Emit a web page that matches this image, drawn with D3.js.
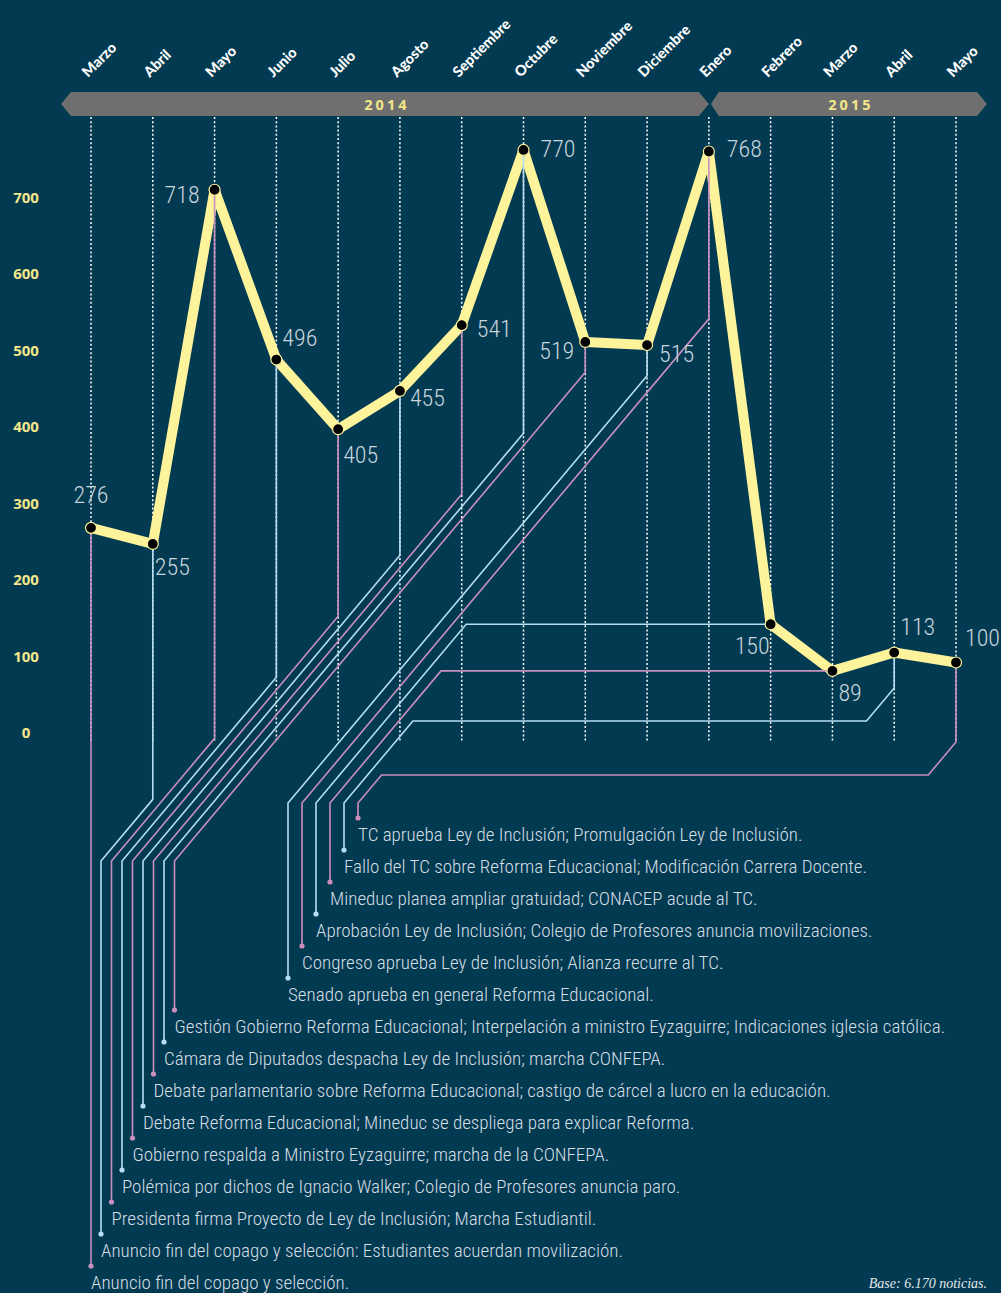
<!DOCTYPE html>
<html><head><meta charset="utf-8">
<script src="https://cdn.jsdelivr.net/npm/d3@7/dist/d3.min.js"></script>
<style>body{margin:0;background:#023a52}svg{display:block}</style></head>
<body><svg id="chart" width="1001" height="1293"></svg>
<script>
// ---------- data ----------
const months = ["Marzo","Abril","Mayo","Junio","Julio","Agosto","Septiembre","Octubre","Noviembre","Diciembre","Enero","Febrero","Marzo","Abril","Mayo"];
const years = ["2014","2015"];
const values = [276,255,718,496,405,455,541,770,519,515,768,150,89,113,100];
const yTicks = [0,100,200,300,400,500,600,700];
const events = [
  "Anuncio fin del copago y selección.",
  "Anuncio fin del copago y selección: Estudiantes acuerdan movilización.",
  "Presidenta firma Proyecto de Ley de Inclusión; Marcha Estudiantil.",
  "Polémica por dichos de Ignacio Walker; Colegio de Profesores anuncia paro.",
  "Gobierno respalda a Ministro Eyzaguirre; marcha de la CONFEPA.",
  "Debate Reforma Educacional; Mineduc se despliega para explicar Reforma.",
  "Debate parlamentario sobre Reforma Educacional; castigo de cárcel a lucro en la educación.",
  "Cámara de Diputados despacha Ley de Inclusión; marcha CONFEPA.",
  "Gestión Gobierno Reforma Educacional; Interpelación a ministro Eyzaguirre; Indicaciones iglesia católica.",
  "Senado aprueba en general Reforma Educacional.",
  "Congreso aprueba Ley de Inclusión; Alianza recurre al TC.",
  "Aprobación Ley de Inclusión; Colegio de Profesores anuncia movilizaciones.",
  "Mineduc planea ampliar gratuidad; CONACEP acude al TC.",
  "Fallo del TC sobre Reforma Educacional; Modificación Carrera Docente.",
  "TC aprueba Ley de Inclusión; Promulgación Ley de Inclusión."
];
const footnote = "Base: 6.170 noticias.";

// ---------- style / layout ----------
const C = {bg:"#023a52", yellow:"#fdf39b", pink:"#c98fbf", blue:"#b6def2", text:"#d5dee3", num:"#c8d5dc", tick:"#f4e68a", band:"#6f6f6f"};
const labelPlace = [[0,-25,"middle"],[2,31,"start"],[-15,13,"end"],[6,-14,"start"],[5,34,"start"],[10,15,"start"],[15,12,"start"],[17,7,"start"],[-11,17,"end"],[12,17,"start"],[18,6,"start"],[-1,30,"end"],[6,30,"start"],[6,-18,"start"],[9,-17,"start"]];

const svg = d3.select("#chart");
svg.append("rect").attr("width",1001).attr("height",1293).attr("fill",C.bg);

const x = d3.scalePoint().domain(d3.range(months.length)).range([91,956]);
const y = d3.scaleLinear().domain([0,700]).range([739,739-0.765*700]);

// month labels
svg.append("g").selectAll("text").data(months).join("text")
  .attr("transform",(d,i)=>`translate(${x(i)-3},78) rotate(-45)`)
  .attr("fill","#fff").style("font-family","Lato").style("font-weight",900).style("font-size","14.5px")
  .text(d=>d);

// year bands
const bandY=104, bh=12;
const bandPts = [
  [[x(0)-30,bandY],[x(0)-20,bandY-bh],[x(10)-10,bandY-bh],[x(10),bandY],[x(10)-10,bandY+bh],[x(0)-20,bandY+bh]],
  [[x(10)+2,bandY],[x(10)+10,bandY-bh],[x(14)+21,bandY-bh],[x(14)+31,bandY],[x(14)+21,bandY+bh],[x(10)+10,bandY+bh]]
];
svg.append("g").selectAll("path").data(bandPts).join("path")
  .attr("d",d=>"M"+d.join("L")+"Z").attr("fill",C.band);
svg.append("g").selectAll("text").data(years).join("text")
  .attr("x",(d,i)=>(bandPts[i][0][0]+bandPts[i][3][0])/2+2).attr("y",bandY+5.5)
  .attr("text-anchor","middle").attr("fill",C.tick)
  .style("font-family","'Open Sans'").style("font-weight",700).style("font-size","14.5px").style("letter-spacing","3px")
  .text(d=>d);

// grid
svg.append("g").selectAll("line").data(months).join("line")
  .attr("x1",(d,i)=>x(i)).attr("x2",(d,i)=>x(i)).attr("y1",117).attr("y2",741)
  .attr("stroke","#fff").attr("stroke-width",1.5).attr("stroke-dasharray","2,2.2");

// y ticks
svg.append("g").selectAll("text").data(yTicks).join("text")
  .attr("x",26).attr("y",d=>y(d)-1).attr("text-anchor","middle").attr("fill",C.tick)
  .style("font-family","'Open Sans'").style("font-weight",700).style("font-size","15px")
  .text(d=>d);

// main line
svg.append("path").datum(values)
  .attr("d",d3.line().x((d,i)=>x(i)).y(d=>y(d)))
  .attr("fill","none").attr("stroke",C.yellow).attr("stroke-width",10).attr("stroke-linejoin","round");

// leaders
const k = 1.19;
function textY(i){return 1282-32*i;}
function targetX(i){ if(i===0) return x(0); if(i<=8) return 101+(i-1)*10.5; return 288+(i-9)*14; }
function leaderPath(i){
  const mx=x(i), py=y(values[i]), tx=targetX(i), dy=textY(i)-16;
  const p=d3.path(); p.moveTo(mx,py);
  if(i===0){ p.lineTo(mx,dy); return p.toString(); }
  if(i<=10){
    const ky = i<=8 ? 861 : 803;
    p.lineTo(mx, ky-k*(mx-tx)); p.lineTo(tx,ky); p.lineTo(tx,dy); return p.toString();
  }
  const ky=803;
  if(i<=12){
    p.lineTo(tx+(ky-py)/k, py); p.lineTo(tx,ky); p.lineTo(tx,dy); return p.toString();
  }
  const h = i===13 ? 721 : 775;
  p.lineTo(mx,h-33); p.lineTo(mx-33/k,h); p.lineTo(tx+(ky-h)/k,h); p.lineTo(tx,ky); p.lineTo(tx,dy);
  return p.toString();
}
const col = i => i%2===0 ? C.pink : C.blue;
svg.append("g").selectAll("path").data(values).join("path")
  .attr("d",(d,i)=>leaderPath(i)).attr("fill","none").attr("stroke",(d,i)=>col(i)).attr("stroke-width",1.6);
svg.append("g").selectAll("circle").data(values).join("circle")
  .attr("cx",(d,i)=>targetX(i)).attr("cy",(d,i)=>textY(i)-16).attr("r",2.6).attr("fill",(d,i)=>col(i));

// event labels
svg.append("g").selectAll("text").data(events).join("text")
  .attr("x",(d,i)=>targetX(i)).attr("y",(d,i)=>textY(i)+6.5).attr("fill",C.text)
  .style("font-family","'Roboto Condensed'").style("font-weight",300).style("font-size","19px")
  .text(d=>d);

// points
svg.append("g").selectAll("circle").data(values).join("circle")
  .attr("cx",(d,i)=>x(i)).attr("cy",d=>y(d)).attr("r",5.5)
  .attr("fill","#000").attr("stroke",C.yellow).attr("stroke-width",1.2);

// value labels
svg.append("g").selectAll("text").data(values).join("text")
  .attr("x",(d,i)=>x(i)+labelPlace[i][0]).attr("y",(d,i)=>y(d)+labelPlace[i][1])
  .attr("text-anchor",(d,i)=>labelPlace[i][2]).attr("fill",C.num)
  .style("font-family","'Roboto Condensed'").style("font-weight",300).style("font-size","24px")
  .text(d=>d);

// footnote
svg.append("text").attr("x",987).attr("y",1288).attr("text-anchor","end").attr("fill","#e3e9ec")
  .style("font-family","'Liberation Serif'").style("font-style","italic").style("font-size","14px")
  .text(footnote);
</script></body></html>
